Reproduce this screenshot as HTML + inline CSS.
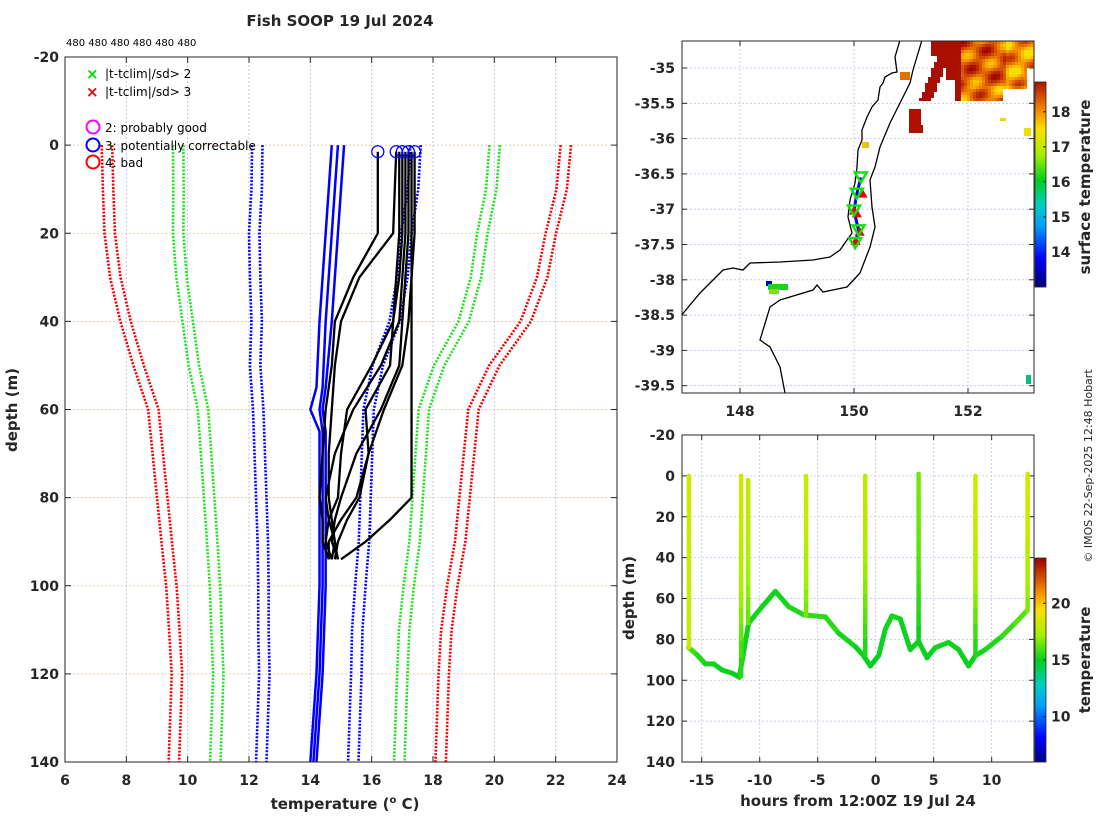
<!DOCTYPE html>
<html><head><meta charset="utf-8"><style>
body{margin:0;background:#fff}
svg{display:block;font-family:"DejaVu Sans","Liberation Sans",sans-serif}
.tk{font-size:14px;font-weight:bold;fill:#262626}
.lb{font-size:15px;font-weight:bold;fill:#262626}
</style></head><body>
<svg id="fig" width="1100" height="820" viewBox="0 0 1100 820" xmlns="http://www.w3.org/2000/svg">
<rect width="1100" height="820" fill="#fff"/>
<text x="340" y="26" text-anchor="middle" class="lb">Fish SOOP 19 Jul 2024</text>
<text x="66" y="46" font-size="10" fill="#000">480 480 480 480 480 480</text>
<text x="345" y="809" text-anchor="middle" class="lb">temperature (<tspan font-size="10" dy="-6">o</tspan><tspan dy="6"> C)</tspan></text>
<text x="17" y="410" text-anchor="middle" class="lb" transform="rotate(-90 17 410)">depth (m)</text>
<text x="858" y="806" text-anchor="middle" class="lb">hours from 12:00Z 19 Jul 24</text>
<text x="634" y="598" text-anchor="middle" class="lb" transform="rotate(-90 634 598)">depth (m)</text>
<text x="1090" y="187" text-anchor="middle" class="lb" transform="rotate(-90 1090 187)">surface temperature</text>
<text x="1090" y="660" text-anchor="middle" class="lb" transform="rotate(-90 1090 660)">temperature</text>
<text x="1092" y="466" text-anchor="middle" font-size="11" fill="#262626" transform="rotate(-90 1092 466)">© IMOS 22-Sep-2025 12:48 Hobart</text>
<g id="legend">
<text x="86" y="79" font-size="15" font-weight="bold" fill="#00e000">×</text>
<text x="105" y="78" font-size="12" fill="#000">|t-tclim|/sd&gt; 2</text>
<text x="86" y="97" font-size="15" font-weight="bold" fill="#f00000">×</text>
<text x="105" y="96" font-size="12" fill="#000">|t-tclim|/sd&gt; 3</text>
<circle cx="93" cy="127" r="6.5" fill="none" stroke="#f0f" stroke-width="2"/>
<text x="105" y="132" font-size="12" fill="#000">2: probably good</text>
<circle cx="93" cy="145" r="6.5" fill="none" stroke="#00f" stroke-width="2"/>
<text x="105" y="150" font-size="12" fill="#000">3: potentially correctable</text>
<circle cx="93" cy="162" r="6.5" fill="none" stroke="#f00" stroke-width="2"/>
<text x="105" y="167" font-size="12" fill="#000">4: bad</text>
</g>
</svg>
<script>
// ---------- data: profile plot ----------
const climDepths=[0,10,20,30,40,50,60,70,80,90,100,110,120,130,140];
const climMean=[14.85,14.8,14.65,14.6,14.5,14.2,14.1,14.1,14.1,14.1,14.05,14.0,14.0,13.95,13.9];
const climSd=[2.58,2.55,2.48,2.4,2.25,2.0,1.8,1.75,1.7,1.65,1.58,1.53,1.5,1.5,1.5];
const sdMultipliers=[1,2,2.9];
const blueDepths=[0,20,40,55,60,65,80,100,120,140];
const blueProfiles=[
 [14.7,14.5,14.3,14.2,14.0,14.3,14.3,14.3,14.2,14.0],
 [14.9,14.7,14.5,14.4,14.3,14.4,14.4,14.4,14.3,14.1],
 [15.1,14.9,14.7,14.5,14.4,14.5,14.5,14.5,14.4,14.2]];
const blackDepths=[1.5,20,30,40,50,60,70,80,85,90,94];
const blackProfiles=[
 [16.2,16.2,15.4,14.8,14.7,14.5,14.4,14.3,14.4,14.4,14.6],
 [16.8,16.7,15.6,15.0,14.8,14.7,14.6,14.6,14.7,14.8,14.9],
 [17.0,17.0,16.9,16.7,16.0,15.2,15.0,14.9,14.6,14.5,14.7],
 [17.2,17.2,17.1,17.0,16.9,16.3,15.5,15.0,14.8,14.7,14.9],
 [17.3,17.3,17.3,17.3,17.3,17.3,17.3,17.3,16.6,15.8,15.0],
 [16.9,16.9,16.8,16.7,16.6,15.8,15.9,15.5,15.0,14.6,14.6],
 [17.1,17.1,17.0,16.9,16.3,15.4,14.8,14.5,14.6,14.8,14.7],
 [17.4,17.4,17.3,17.2,17.0,16.4,15.9,15.6,15.2,14.9,14.8]];
const flagTemps=[16.2,16.8,17.0,17.2,17.4];
const xTicks=[6,8,10,12,14,16,18,20,22,24];
const yTicks=[-20,0,20,40,60,80,100,120,140];
// ---------- data: map ----------
const mapLonTicks=[148,150,152];
const mapLatTicks=[-35,-35.5,-36,-36.5,-37,-37.5,-38,-38.5,-39,-39.5];
const castLon=[150.12,150.05,150.0,150.08,150.02];
const castLat=[-36.55,-36.78,-37.02,-37.3,-37.48];
const castFlagLon=[150.15,150.0,150.05,150.1,150.03];
const castFlagLat=[-36.78,-37.02,-37.06,-37.32,-37.45];
const sstTicks=[14,15,16,17,18];
// ---------- data: time-depth ----------
const trackHours=[-16.13,-15.41,-14.69,-13.97,-13.25,-12.39,-11.76,-10.95,-9.8,-8.65,-7.5,-6.21,-4.34,-3.19,-1.76,-1.04,-0.46,0.25,0.83,1.40,2.12,2.98,3.70,4.42,5.14,6.29,7.15,8.01,8.59,9.45,10.89,12.04,13.04];
const trackDepth=[84,87.5,92,92,95,96.5,98.5,72,64,56.5,64,68,69,77,83.5,88,93,88,75,68.5,70,85,81,89,84,81.5,85,93,88,85,78.5,72,66];
const trackTemp=[16.2,15.6,15.3,15.2,15.2,15.1,15.1,15.3,15.2,15.2,15.3,15.5,15.8,15.4,15.2,15.1,15.1,15.1,15.2,15.3,15.2,15.1,15.2,15.1,15.2,15.2,15.2,15.1,15.2,15.3,15.5,16.0,16.4];
const castHours=[-16.1,-11.6,-11.0,-6.0,-0.9,3.7,8.6,13.1];
const castStart=[0,0,2,0,0,-1,0,-1];
const castEnd=[84,98,72,68,88,81,88,66];
const castTopTemp=[18.3,18.3,18.0,18.2,17.8,16.6,18.3,18.4];
const castBotTemp=[18.0,15.3,16.3,16.5,15.2,15.0,15.2,16.6];
const timeTicks=[-15,-10,-5,0,5,10];
const tdDepthTicks=[-20,0,20,40,60,80,100,120,140];
const cbTicks=[10,15,20];

const NS='http://www.w3.org/2000/svg';
const svg=document.getElementById('fig');
function mk(tag,attrs,parent){const e=document.createElementNS(NS,tag);for(const k in attrs)e.setAttribute(k,attrs[k]);(parent||svg).appendChild(e);return e;}
function txt(x,y,s,anchor,parent){const t=mk('text',{x:x,y:y,'text-anchor':anchor,class:'tk'},parent);t.textContent=s;return t;}
const stops=[[0,[0,0,128]],[0.12,[0,0,255]],[0.28,[0,160,255]],[0.38,[0,208,192]],[0.5,[0,208,32]],[0.62,[160,240,0]],[0.75,[255,224,0]],[0.85,[240,128,0]],[1,[160,0,0]]];
function cmap(f){f=Math.max(0,Math.min(1,f));for(let i=1;i<stops.length;i++){if(f<=stops[i][0]){const a=stops[i-1],b=stops[i],u=(f-a[0])/(b[0]-a[0]);return 'rgb('+a[1].map((v,j)=>Math.round(v+(b[1][j]-v)*u)).join(',')+')';}}return 'rgb(160,0,0)';}

// ===== profile plot =====
const P={l:65,r:617,t:57,b:762,x0:6,x1:24,y0:-20,y1:140};
const px=v=>P.l+(v-P.x0)/(P.x1-P.x0)*(P.r-P.l);
const py=d=>P.t+(d-P.y0)/(P.y1-P.y0)*(P.b-P.t);
const gP=mk('g',{});


const defs=mk('defs',{});
const cp=mk('clipPath',{id:'cpP'},defs);mk('rect',{x:P.l,y:P.t,width:P.r-P.l,height:P.b-P.t},cp);
const cp2=mk('clipPath',{id:'cpM'},defs);mk('rect',{x:682,y:41,width:352,height:352},cp2);
xTicks.forEach(v=>{const l=mk('line',{x1:px(v),x2:px(v),y1:P.t,y2:P.b,stroke:'#b8b8e8','stroke-width':0.8,'stroke-dasharray':'2,2'},gP);


const t=txt(px(v),P.b+23,String(v),'middle',gP);


mk('line',{x1:px(v),x2:px(v),y1:P.b,y2:P.b-6,stroke:'#262626'},gP);mk('line',{x1:px(v),x2:px(v),y1:P.t,y2:P.t+6,stroke:'#262626'},gP);});
yTicks.forEach(v=>{const l=mk('line',{x1:P.l,x2:P.r,y1:py(v),y2:py(v),stroke:'#e0c0a0','stroke-width':0.8,'stroke-dasharray':'2,2'},gP);


const t=txt(P.l-6,py(v)+5,String(v),'end',gP);


mk('line',{x1:P.l,x2:P.l+6,y1:py(v),y2:py(v),stroke:'#262626'},gP);mk('line',{x1:P.r,x2:P.r-6,y1:py(v),y2:py(v),stroke:'#262626'},gP);});
const gC=mk('g',{'clip-path':'url(#cpP)'},gP);
const climCol={1:'#0000ff',2:'#20e020',2.9:'#f00000'};
sdMultipliers.forEach(k=>{[-1,1].forEach(s=>{[-0.17,0.17].forEach(o=>{
 const pts=climDepths.map((d,i)=>px(climMean[i]+s*k*climSd[i]+o)+','+py(d)).join(' ');
 const l=mk('polyline',{points:pts,fill:'none',stroke:climCol[k],'stroke-width':2.6,'stroke-dasharray':'2,1.5'},gC);
 
 
});});});
blueProfiles.forEach(pr=>{const l=mk('polyline',{points:blueDepths.map((d,i)=>px(pr[i])+','+py(d)).join(' '),fill:'none',stroke:'#0000ff','stroke-width':2.5},gC);

});
blackProfiles.forEach(pr=>{const l=mk('polyline',{points:blackDepths.map((d,i)=>px(pr[i])+','+py(d)).join(' '),fill:'none',stroke:'#000','stroke-width':2.3},gC);

});
flagTemps.forEach(t=>{const c=mk('circle',{cx:px(t),cy:py(1.5),r:6,fill:'none',stroke:'#0000ff','stroke-width':1.3},gC);

});
mk('rect',{x:P.l,y:P.t,width:P.r-P.l,height:P.b-P.t,fill:'none',stroke:'#262626','stroke-width':1},gP);
svg.appendChild(document.getElementById('legend'));

// ===== map =====
const M={l:682,r:1034,t:41,b:393};
const mx=lon=>854+(lon-150)*57;
const my=lat=>68+(-35-lat)*70.6;
const gM=mk('g',{});


mapLonTicks.forEach(v=>{mk('line',{x1:mx(v),x2:mx(v),y1:M.t,y2:M.b,stroke:'#c0c0e8','stroke-width':0.8,'stroke-dasharray':'2,2'},gM);
const t=txt(mx(v),M.b+23,String(v),'middle',gM);


mk('line',{x1:mx(v),x2:mx(v),y1:M.b,y2:M.b-5,stroke:'#262626'},gM);mk('line',{x1:mx(v),x2:mx(v),y1:M.t,y2:M.t+5,stroke:'#262626'},gM);});
mapLatTicks.forEach(v=>{mk('line',{x1:M.l,x2:M.r,y1:my(v),y2:my(v),stroke:'#c0c0e8','stroke-width':0.8,'stroke-dasharray':'2,2'},gM);
const t=txt(M.l-7,my(v)+5,String(v),'end',gM);


mk('line',{x1:M.l,x2:M.l+5,y1:my(v),y2:my(v),stroke:'#262626'},gM);mk('line',{x1:M.r,x2:M.r-5,y1:my(v),y2:my(v),stroke:'#262626'},gM);});
const gS=mk('g',{'clip-path':'url(#cpM)'},gM);


// SST pixels (deterministic texture)
for(let x=916;x<1034;x+=3){for(let y=41;y<102;y+=3){
 const s0=918+(100-y)*0.4;
 const streak=x>=s0&&x<=s0+12&&y<100;
 const topBand=y<56&&x>930;
 const blob=x>=955&&y<(x>1000?88:100)&&!(x>1026&&y>66);
 const mid=x>945&&x<955&&y<80;
 if(!(streak||topBand||blob||mid))continue;
 let v;
 if(streak||x<960) v=18.9;
 else v=18.35+0.35*Math.sin(x*0.21+y*0.17)+0.3*Math.cos(x*0.09-y*0.27)-(x>1005?0.35:0)-(y>85?0.2:0);
 mk('rect',{x:x,y:y,width:3,height:3,fill:cmap(0.15+(v-14)*0.17)},gS);}}
[[909,109,12,24,'#b01000'],[915,125,8,8,'#b01000'],[900,72,10,8,'#e07000'],[862,142,7,6,'#f0c000'],[1024,128,7,8,'#e8e000'],[766,281,6,5,'#0000c0'],[768,284,20,6,'#20d020'],[769,289,10,5,'#80e000'],[1026,375,5,9,'#00c080'],[1000,118,6,3,'#ffd000']].forEach(r=>mk('rect',{x:r[0],y:r[1],width:r[2],height:r[3],fill:r[4]},gS));
const coast1=[[900,40],[895,57],[897,72],[892,73],[885,77],[883,83],[880,87],[878,100],[872,107],[867,117],[862,130],[862,140],[858,150],[857,167],[855,183],[850,200],[848,217],[852,233],[847,240],[840,250],[830,257],[813,260],[780,262],[750,263],[743,270],[733,268],[723,270],[713,280],[700,293],[680,317]];
const coast2=[[922,40],[913,70],[910,83],[900,103],[890,123],[880,147],[875,167],[870,180],[872,207],[875,227],[870,247],[860,273],[847,287],[823,292],[817,285],[813,290],[780,300],[770,307],[760,340],[770,347],[780,367],[785,393]];
[coast1,coast2].forEach(c=>{const l=mk('polyline',{points:c.map(p=>p.join(',')).join(' '),fill:'none',stroke:'#000','stroke-width':1.3},gS);

});
mk('polyline',{points:castLon.map((v,i)=>mx(v)+','+my(castLat[i])).join(' '),fill:'none',stroke:'#0000ff','stroke-width':3},gS);
castFlagLon.forEach((v,i)=>{const x=mx(v),y=my(castFlagLat[i]);const t=mk('polygon',{points:`${x-5},${y+4} ${x+5},${y+4} ${x},${y-5}`,fill:'#f00000'},gS);

});
castLon.forEach((v,i)=>{const x=mx(v),y=my(castLat[i]);const t=mk('polygon',{points:`${x-6},${y-5} ${x+6},${y-5} ${x},${y+5}`,fill:'none',stroke:'#10e010','stroke-width':2.4},gS);

});
mk('rect',{x:M.l,y:M.t,width:M.r-M.l,height:M.b-M.t,fill:'none',stroke:'#262626'},gM);
// map colorbar
const CB1={t:82,b:287,v0:13.0,v1:18.85};
for(let y=CB1.t;y<CB1.b;y++){const v=CB1.v1-(y-CB1.t)/(CB1.b-CB1.t)*(CB1.v1-CB1.v0);mk('rect',{x:1035,y:y,width:11,height:1.2,fill:cmap(0.15+(v-14)*0.17)},gM);}
const cbr=mk('rect',{x:1035,y:CB1.t,width:11,height:CB1.b-CB1.t,fill:'none',stroke:'#262626','stroke-width':0.8},gM);


sstTicks.forEach(v=>{const y=CB1.b-(v-CB1.v0)/(CB1.v1-CB1.v0)*(CB1.b-CB1.t);mk('line',{x1:1046,x2:1043,y1:y,y2:y,stroke:'#262626'},gM);
const t=txt(1051,y+5,String(v),'start',gM);

});

// ===== time-depth =====
const T={l:682,r:1034,t:435,b:762,x0:-16.7,x1:13.65,y0:-20,y1:140};
const tx=h=>T.l+(h-T.x0)/(T.x1-T.x0)*(T.r-T.l);
const ty=d=>T.t+(d-T.y0)/(T.y1-T.y0)*(T.b-T.t);
const CB2={t:558,b:762,v0:6,v1:24};
const tcol=v=>cmap((v-CB2.v0)/(CB2.v1-CB2.v0));
const gT=mk('g',{});


timeTicks.forEach(v=>{mk('line',{x1:tx(v),x2:tx(v),y1:T.t,y2:T.b,stroke:'#c0c0e8','stroke-width':0.8,'stroke-dasharray':'2,2'},gT);
const t=txt(tx(v),T.b+23,String(v),'middle',gT);


mk('line',{x1:tx(v),x2:tx(v),y1:T.b,y2:T.b-5,stroke:'#262626'},gT);mk('line',{x1:tx(v),x2:tx(v),y1:T.t,y2:T.t+5,stroke:'#262626'},gT);});
tdDepthTicks.forEach(v=>{mk('line',{x1:T.l,x2:T.r,y1:ty(v),y2:ty(v),stroke:'#c0c0e8','stroke-width':0.8,'stroke-dasharray':'2,2'},gT);
const t=txt(T.l-7,ty(v)+5,String(v),'end',gT);


mk('line',{x1:T.l,x2:T.l+5,y1:ty(v),y2:ty(v),stroke:'#262626'},gT);mk('line',{x1:T.r,x2:T.r-5,y1:ty(v),y2:ty(v),stroke:'#262626'},gT);});
for(let i=0;i<trackHours.length-1;i++){const l=mk('line',{x1:tx(trackHours[i]),y1:ty(trackDepth[i]),x2:tx(trackHours[i+1]),y2:ty(trackDepth[i+1]),stroke:tcol((trackTemp[i]+trackTemp[i+1])/2),'stroke-width':5,'stroke-linecap':'round'},gT);

}
castHours.forEach((h,i)=>{const n=12;for(let k=0;k<n;k++){const d0=castStart[i]+(castEnd[i]-castStart[i])*k/n,d1=castStart[i]+(castEnd[i]-castStart[i])*(k+1)/n;const f=(k+0.5)/n;const v=castTopTemp[i]+(castBotTemp[i]-castTopTemp[i])*f*f;
 const l=mk('line',{x1:tx(h),y1:ty(d0),x2:tx(h),y2:ty(d1),stroke:tcol(v),'stroke-width':4.5,'stroke-linecap':'round'},gT);
 
 }});
mk('rect',{x:T.l,y:T.t,width:T.r-T.l,height:T.b-T.t,fill:'none',stroke:'#262626'},gT);
for(let y=CB2.t;y<CB2.b;y++){const v=CB2.v1-(y-CB2.t)/(CB2.b-CB2.t)*(CB2.v1-CB2.v0);mk('rect',{x:1035,y:y,width:11,height:1.2,fill:tcol(v)},gT);}
const cb2=mk('rect',{x:1035,y:CB2.t,width:11,height:CB2.b-CB2.t,fill:'none',stroke:'#262626','stroke-width':0.8},gT);


cbTicks.forEach(v=>{const y=CB2.b-(v-CB2.v0)/(CB2.v1-CB2.v0)*(CB2.b-CB2.t);mk('line',{x1:1046,x2:1043,y1:y,y2:y,stroke:'#262626'},gT);
const t=txt(1051,y+5,String(v),'start',gT);

});
</script>
</body></html>
